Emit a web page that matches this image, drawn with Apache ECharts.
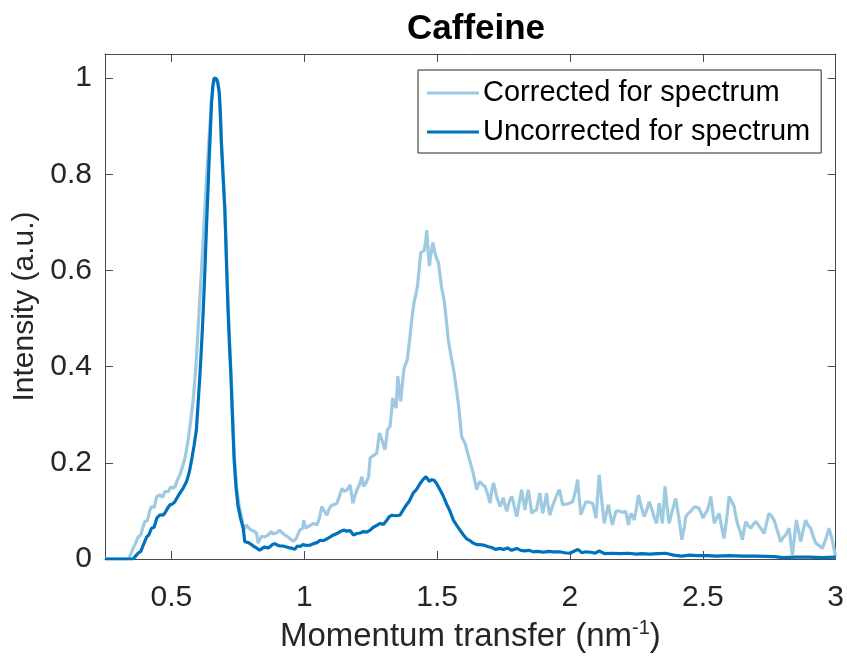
<!DOCTYPE html>
<html>
<head>
<meta charset="utf-8">
<title>Caffeine</title>
<script src="https://cdn.jsdelivr.net/npm/echarts@6/dist/echarts.min.js"></script>
<style>
  html, body { margin: 0; padding: 0; background: #fff; }
  #chart { width: 847px; height: 661px; }
</style>
</head>
<body>
<div id="chart"></div>
<script>
// Momentum transfer (nm^-1) and normalised intensity, corrected for the source spectrum
const qCorrected = [
  0.25, 0.338, 0.347, 0.356, 0.366, 0.375, 0.385, 0.392, 0.40, 0.41, 0.418, 0.425, 0.435, 0.445, 0.452, 0.457,
  0.467, 0.475, 0.488, 0.497, 0.507, 0.515, 0.52, 0.532, 0.544, 0.553, 0.563, 0.572, 0.582, 0.592, 0.601, 0.611,
  0.621, 0.632, 0.642, 0.651, 0.661, 0.670, 0.68, 0.688, 0.701, 0.713, 0.724, 0.736, 0.745, 0.755, 0.765, 0.772,
  0.782, 0.79, 0.801, 0.81, 0.82, 0.826, 0.832, 0.839, 0.851, 0.864, 0.876, 0.883, 0.889, 0.898, 0.908, 0.916,
  0.926, 0.938, 0.951, 0.96, 0.97, 0.983, 0.99, 0.995, 0.998, 1.005, 1.01, 1.022, 1.035, 1.048, 1.057, 1.066,
  1.075, 1.085, 1.095, 1.104, 1.113, 1.123, 1.132, 1.142, 1.148, 1.154, 1.163, 1.173, 1.183, 1.19, 1.198, 1.208,
  1.217, 1.223, 1.232, 1.242, 1.248, 1.26, 1.273, 1.283, 1.294, 1.304, 1.313, 1.323, 1.333, 1.340, 1.346, 1.352,
  1.358, 1.363, 1.370, 1.376, 1.382, 1.388, 1.393, 1.398, 1.405, 1.413, 1.42, 1.426, 1.432, 1.438, 1.445, 1.451,
  1.457, 1.461, 1.466, 1.471, 1.478, 1.484, 1.49, 1.498, 1.505, 1.511, 1.517, 1.526, 1.534, 1.542, 1.553, 1.564,
  1.572, 1.58, 1.586, 1.592, 1.598, 1.605, 1.615, 1.624, 1.63, 1.636, 1.643, 1.649, 1.655, 1.661, 1.67, 1.68,
  1.69, 1.699, 1.705, 1.712, 1.718, 1.724, 1.73, 1.737, 1.743, 1.749, 1.756, 1.762, 1.768, 1.774, 1.781, 1.788,
  1.794, 1.8, 1.81, 1.818, 1.825, 1.831, 1.837, 1.843, 1.85, 1.856, 1.865, 1.874, 1.88, 1.887, 1.892, 1.897,
  1.905, 1.912, 1.918, 1.924, 1.933, 1.943, 1.952, 1.96, 1.966, 1.972, 1.978, 1.985, 1.997, 2.01, 2.02, 2.029,
  2.035, 2.041, 2.05, 2.06, 2.072, 2.085, 2.092, 2.098, 2.104, 2.11, 2.12, 2.129, 2.137, 2.145, 2.152, 2.16,
  2.166, 2.173, 2.185, 2.197, 2.21, 2.22, 2.229, 2.235, 2.242, 2.25, 2.258, 2.268, 2.279, 2.288, 2.298, 2.305,
  2.311, 2.318, 2.326, 2.336, 2.342, 2.348, 2.358, 2.365, 2.373, 2.385, 2.398, 2.41, 2.421, 2.43, 2.436, 2.445,
  2.455, 2.463, 2.471, 2.478, 2.486, 2.494, 2.501, 2.51, 2.518, 2.524, 2.53, 2.537, 2.543, 2.552, 2.561, 2.57,
  2.58, 2.59, 2.599, 2.608, 2.618, 2.624, 2.63, 2.64, 2.649, 2.655, 2.662, 2.67, 2.68, 2.69, 2.7, 2.71,
  2.718, 2.725, 2.731, 2.74, 2.749, 2.758, 2.768, 2.78, 2.793, 2.803, 2.812, 2.818, 2.825, 2.831, 2.837, 2.845,
  2.852, 2.86, 2.868, 2.878, 2.887, 2.896, 2.906, 2.915, 2.925, 2.938, 2.95, 2.962, 2.975, 2.981, 2.987, 2.994,
  3.0
];
const corrected = [
  0, 0, 0.01, 0.022, 0.034, 0.046, 0.05, 0.065, 0.078, 0.08, 0.1, 0.109, 0.107, 0.13, 0.126, 0.133,
  0.128, 0.14, 0.14, 0.15, 0.147, 0.152, 0.161, 0.175, 0.196, 0.215, 0.248, 0.285, 0.331, 0.40, 0.484, 0.58,
  0.68, 0.79, 0.88, 0.955, 1.0, 0.998, 0.97, 0.87, 0.73, 0.53, 0.39, 0.22, 0.15, 0.11, 0.085, 0.06,
  0.071, 0.065, 0.06, 0.058, 0.054, 0.033, 0.04, 0.047, 0.046, 0.05, 0.057, 0.052, 0.05, 0.055, 0.06, 0.055,
  0.05, 0.046, 0.04, 0.037, 0.043, 0.06, 0.064, 0.064, 0.081, 0.064, 0.06, 0.07, 0.074, 0.071, 0.085, 0.109,
  0.1, 0.091, 0.106, 0.112, 0.113, 0.116, 0.13, 0.147, 0.14, 0.137, 0.145, 0.154, 0.116, 0.13, 0.144, 0.155,
  0.171, 0.151, 0.158, 0.171, 0.21, 0.215, 0.22, 0.262, 0.245, 0.227, 0.269, 0.276, 0.335, 0.32, 0.314, 0.38,
  0.35, 0.328, 0.37, 0.397, 0.40, 0.415, 0.44, 0.463, 0.50, 0.533, 0.55, 0.567, 0.60, 0.637, 0.64, 0.641,
  0.66, 0.684, 0.64, 0.609, 0.64, 0.658, 0.64, 0.625, 0.616, 0.59, 0.564, 0.54, 0.50, 0.456, 0.42, 0.387,
  0.355, 0.324, 0.29, 0.255, 0.248, 0.241, 0.22, 0.202, 0.19, 0.178, 0.16, 0.144, 0.155, 0.161, 0.155, 0.151,
  0.135, 0.116, 0.14, 0.158, 0.145, 0.13, 0.12, 0.109, 0.118, 0.127, 0.11, 0.099, 0.112, 0.123, 0.13, 0.115,
  0.1, 0.088, 0.12, 0.144, 0.12, 0.102, 0.125, 0.144, 0.12, 0.095, 0.1, 0.102, 0.12, 0.137, 0.115, 0.095,
  0.115, 0.137, 0.11, 0.091, 0.108, 0.123, 0.135, 0.144, 0.13, 0.113, 0.11, 0.114, 0.116, 0.119, 0.14, 0.165,
  0.125, 0.092, 0.105, 0.119, 0.118, 0.116, 0.1, 0.085, 0.13, 0.175, 0.12, 0.074, 0.095, 0.113, 0.09, 0.071,
  0.085, 0.099, 0.1, 0.097, 0.099, 0.071, 0.095, 0.09, 0.081, 0.105, 0.133, 0.11, 0.088, 0.1, 0.119, 0.108,
  0.099, 0.085, 0.074, 0.116, 0.095, 0.074, 0.151, 0.11, 0.074, 0.1, 0.126, 0.085, 0.04, 0.065, 0.088, 0.095,
  0.099, 0.105, 0.109, 0.107, 0.105, 0.095, 0.085, 0.095, 0.102, 0.115, 0.13, 0.1, 0.074, 0.085, 0.095, 0.07,
  0.043, 0.085, 0.13, 0.12, 0.109, 0.09, 0.074, 0.058, 0.04, 0.06, 0.078, 0.07, 0.064, 0.072, 0.078, 0.07,
  0.064, 0.058, 0.053, 0.075, 0.095, 0.09, 0.081, 0.06, 0.036, 0.045, 0.05, 0.057, 0.064, 0.035, 0.008, 0.045,
  0.081, 0.06, 0.036, 0.06, 0.081, 0.07, 0.064, 0.048, 0.033, 0.028, 0.022, 0.04, 0.064, 0.052, 0.04, 0.02,
  0.005
];

// Same measurement without the spectrum correction
const qUncorrected = [
  0.25, 0.356, 0.365, 0.375, 0.385, 0.394, 0.407, 0.415, 0.425, 0.435, 0.445, 0.457, 0.467, 0.475, 0.485, 0.494,
  0.503, 0.513, 0.522, 0.532, 0.545, 0.557, 0.567, 0.576, 0.585, 0.594, 0.600, 0.607, 0.614, 0.620, 0.626, 0.632,
  0.637, 0.642, 0.647, 0.651, 0.656, 0.661, 0.666, 0.670, 0.675, 0.68, 0.684, 0.688, 0.694, 0.701, 0.707, 0.713,
  0.718, 0.724, 0.730, 0.736, 0.743, 0.751, 0.760, 0.770, 0.776, 0.782, 0.790, 0.801, 0.810, 0.820, 0.832, 0.841,
  0.851, 0.862, 0.870, 0.880, 0.889, 0.898, 0.908, 0.920, 0.933, 0.945, 0.955, 0.964, 0.974, 0.985, 0.995, 1.01,
  1.023, 1.035, 1.048, 1.06, 1.073, 1.085, 1.098, 1.11, 1.123, 1.135, 1.148, 1.16, 1.173, 1.185, 1.198, 1.21,
  1.223, 1.235, 1.248, 1.26, 1.273, 1.286, 1.298, 1.31, 1.32, 1.33, 1.345, 1.36, 1.37, 1.38, 1.395, 1.41,
  1.423, 1.436, 1.447, 1.458, 1.465, 1.47, 1.48, 1.49, 1.50, 1.512, 1.524, 1.535, 1.548, 1.561, 1.574, 1.586,
  1.599, 1.611, 1.624, 1.636, 1.649, 1.661, 1.674, 1.69, 1.705, 1.72, 1.737, 1.75, 1.765, 1.78, 1.8, 1.815,
  1.83, 1.845, 1.862, 1.88, 1.9, 1.92, 1.937, 1.96, 1.98, 2.0, 2.015, 2.03, 2.045, 2.06, 2.08, 2.095,
  2.11, 2.13, 2.16, 2.19, 2.22, 2.25, 2.27, 2.3, 2.33, 2.36, 2.39, 2.42, 2.45, 2.48, 2.52, 2.55,
  2.6, 2.65, 2.7, 2.77, 2.8, 2.85, 2.9, 2.95, 3.0
];
const uncorrected = [
  0, 0, 0.006, 0.0125, 0.016, 0.029, 0.046, 0.05, 0.064, 0.066, 0.085, 0.092, 0.091, 0.095, 0.105, 0.1125,
  0.114, 0.119, 0.128, 0.137, 0.148, 0.161, 0.18, 0.206, 0.235, 0.269, 0.32, 0.38, 0.45, 0.519, 0.60, 0.692,
  0.76, 0.831, 0.895, 0.949, 0.985, 1.0, 1.0, 0.998, 0.99, 0.97, 0.93, 0.866, 0.80, 0.727, 0.62, 0.519,
  0.45, 0.38, 0.29, 0.206, 0.15, 0.109, 0.085, 0.065, 0.036, 0.033, 0.034, 0.03, 0.026, 0.023, 0.018, 0.022,
  0.025, 0.023, 0.025, 0.03, 0.032, 0.029, 0.027, 0.027, 0.025, 0.023, 0.022, 0.02, 0.027, 0.026, 0.03, 0.028,
  0.029, 0.032, 0.034, 0.039, 0.038, 0.042, 0.046, 0.05, 0.053, 0.057, 0.06, 0.058, 0.059, 0.05, 0.053, 0.054,
  0.057, 0.056, 0.06, 0.066, 0.07, 0.074, 0.072, 0.08, 0.088, 0.091, 0.09, 0.091, 0.1, 0.109, 0.12, 0.137,
  0.145, 0.157, 0.165, 0.171, 0.166, 0.161, 0.165, 0.163, 0.155, 0.143, 0.13, 0.115, 0.1, 0.081, 0.07, 0.06,
  0.05, 0.042, 0.038, 0.033, 0.03, 0.03, 0.029, 0.026, 0.024, 0.02, 0.022, 0.02, 0.023, 0.018, 0.022, 0.018,
  0.017, 0.018, 0.015, 0.016, 0.014, 0.016, 0.015, 0.015, 0.013, 0.012, 0.016, 0.02, 0.013, 0.015, 0.014, 0.012,
  0.017, 0.011, 0.012, 0.011, 0.012, 0.01, 0.011, 0.01, 0.011, 0.012, 0.008, 0.006, 0.008, 0.007, 0.007, 0.006,
  0.007, 0.006, 0.006, 0.005, 0.003, 0.004, 0.004, 0.003, 0.004
];

const xTicks = [0.5, 1, 1.5, 2, 2.5, 3];
const yTicks = [0, 0.2, 0.4, 0.6, 0.8, 1];
const seriesNames = ['Corrected for spectrum', 'Uncorrected for spectrum'];

const FONT = '"Liberation Sans", Arial, Helvetica, sans-serif';
const AXIS_COLOR = '#4a4a4a';
const TEXT_COLOR = '#262626';

const pairs = (xs, ys) => xs.map((x, i) => [x, ys[i]]);

// Frame axes: every side of the box carries inward ticks
const boxAxis = (extra) => Object.assign({
  type: 'value',
  splitLine: { show: false },
  axisLine: { show: true, onZero: false, lineStyle: { color: AXIS_COLOR, width: 1 } },
  axisTick: { show: true, inside: true, length: 8, lineStyle: { color: AXIS_COLOR, width: 1 } },
  axisLabel: { show: false }
}, extra);

const chart = echarts.init(document.getElementById('chart'), null, { renderer: 'canvas' });

chart.setOption({
  animation: false,
  backgroundColor: '#ffffff',
  textStyle: { fontFamily: FONT },
  title: {
    text: 'Caffeine',
    left: 402,
    top: 7,
    textStyle: { fontFamily: FONT, fontSize: 35, fontWeight: 'bold', color: '#000000' }
  },
  grid: { left: 105, right: 10, top: 54, bottom: 102, containLabel: false },
  legend: {
    data: seriesNames,
    orient: 'vertical',
    left: 418,
    top: 70,
    padding: [7, 11, 5, 9],
    itemGap: 7,
    itemWidth: 52,
    itemHeight: 3,
    icon: 'rect',
    backgroundColor: '#ffffff',
    borderColor: '#262626',
    borderWidth: 1,
    textStyle: { fontFamily: FONT, fontSize: 29, lineHeight: 32, color: '#000000', padding: [0, 0, 0, -1] }
  },
  xAxis: [
    boxAxis({
      min: 0.25, max: 3,
      position: 'bottom',
      axisTick: { show: true, inside: true, length: 8, customValues: xTicks, lineStyle: { color: AXIS_COLOR, width: 1 } },
      axisLabel: {
        show: true, customValues: xTicks, margin: 24,
        fontFamily: FONT, fontSize: 30, color: TEXT_COLOR
      },
      name: 'Momentum transfer (nm{sup|-1})',
      nameLocation: 'middle',
      nameGap: 59,
      nameTextStyle: {
        fontFamily: FONT, fontSize: 33, color: TEXT_COLOR, lineHeight: 38,
        rich: { sup: { fontFamily: FONT, fontSize: 20, color: TEXT_COLOR, verticalAlign: 'top', lineHeight: 22 } }
      }
    }),
    boxAxis({
      min: 0.25, max: 3,
      position: 'top',
      axisTick: { show: true, inside: true, length: 8, customValues: xTicks, lineStyle: { color: AXIS_COLOR, width: 1 } }
    })
  ],
  yAxis: [
    boxAxis({
      min: 0, max: 1.05,
      position: 'left',
      axisTick: { show: true, inside: true, length: 8, customValues: yTicks, lineStyle: { color: AXIS_COLOR, width: 1 } },
      axisLabel: {
        show: true, customValues: yTicks, margin: 13,
        fontFamily: FONT, fontSize: 30, color: TEXT_COLOR
      },
      name: 'Intensity (a.u.)',
      nameLocation: 'middle',
      nameRotate: 90,
      nameGap: 62,
      nameTextStyle: { fontFamily: FONT, fontSize: 30, color: TEXT_COLOR }
    }),
    boxAxis({
      min: 0, max: 1.05,
      position: 'right',
      axisTick: { show: true, inside: true, length: 8, customValues: yTicks, lineStyle: { color: AXIS_COLOR, width: 1 } }
    })
  ],
  series: [
    {
      name: seriesNames[0],
      type: 'line',
      data: pairs(qCorrected, corrected),
      showSymbol: false,
      symbol: 'none',
      lineStyle: { color: '#9ecae1', width: 3.2 },
      itemStyle: { color: '#9ecae1' },
      clip: true,
      z: 2
    },
    {
      name: seriesNames[1],
      type: 'line',
      data: pairs(qUncorrected, uncorrected),
      showSymbol: false,
      symbol: 'none',
      lineStyle: { color: '#0072bd', width: 3.2 },
      itemStyle: { color: '#0072bd' },
      clip: true,
      z: 3
    }
  ]
});
</script>
</body>
</html>
